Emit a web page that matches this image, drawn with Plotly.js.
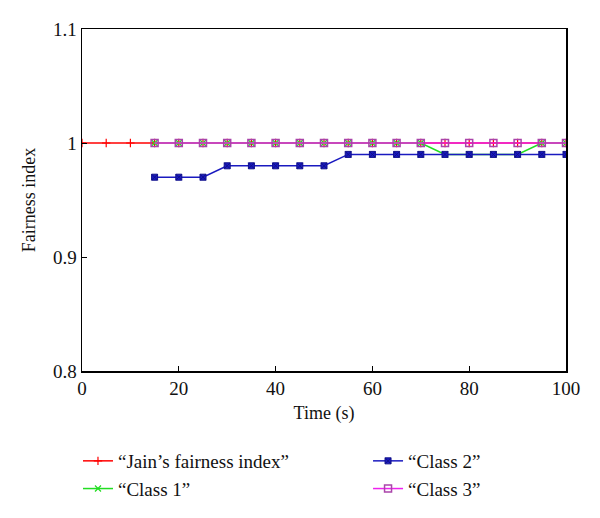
<!DOCTYPE html>
<html>
<head>
<meta charset="utf-8">
<script src="https://cdn.plot.ly/plotly-3.0.1.min.js"></script>
<style>html,body{margin:0;padding:0;background:#fff}#chart{width:600px;height:518px}</style>
</head>
<body>
<div id="chart"></div>
<script>
const jainTime = [0, 5, 10, 15, 20, 25, 30, 35, 40, 45, 50, 55, 60, 65, 70, 75, 80, 85, 90, 95, 100];
const jainIndex = [1, 1, 1, 1, 1, 1, 1, 1, 1, 1, 1, 1, 1, 1, 1, 1, 1, 1, 1, 1, 1];
const classTime = [15, 20, 25, 30, 35, 40, 45, 50, 55, 60, 65, 70, 75, 80, 85, 90, 95, 100];
const class1 = [1, 1, 1, 1, 1, 1, 1, 1, 1, 1, 1, 1, 0.99, 0.99, 0.99, 0.99, 1, 1];
const class2 = [0.97, 0.97, 0.97, 0.98, 0.98, 0.98, 0.98, 0.98, 0.99, 0.99, 0.99, 0.99, 0.99, 0.99, 0.99, 0.99, 0.99, 0.99];
const class3 = [1, 1, 1, 1, 1, 1, 1, 1, 1, 1, 1, 1, 1, 1, 1, 1, 1, 1];
const names = ['\u201CJain\u2019s fairness index\u201D', '\u201CClass 1\u201D', '\u201CClass 2\u201D', '\u201CClass 3\u201D'];
const yTicks = [0.8, 0.9, 1, 1.1];
const yTickText = ['0.8', '0.9', '1', '1.1'];
const xTicks = [0, 20, 40, 60, 80, 100];

const font = 'Liberation Serif, DejaVu Serif, serif';
const traces = [
  {x: jainTime, y: jainIndex, name: names[0], mode: 'lines+markers', legend: 'legend',
   line: {color: '#ff0000', width: 1.5}, marker: {symbol: 'cross-thin-open', size: 6, color: '#ff0000', line: {color: '#d02020', width: 1.2}}},
  {x: classTime, y: class1, name: names[1], mode: 'lines+markers', legend: 'legend',
   line: {color: '#22dd22', width: 1.5}, marker: {symbol: 'x-thin-open', size: 6, color: '#22dd22', line: {color: '#22bb22', width: 1.2}}},
  {x: classTime, y: class2, name: names[2], mode: 'lines+markers', legend: 'legend2',
   line: {color: '#1a1ac0', width: 1.5}, marker: {symbol: 'square-x', size: 6, color: '#1a1ac0', line: {color: '#10108a', width: 1}}},
  {x: classTime, y: class3, name: names[3], mode: 'lines+markers', legend: 'legend2',
   line: {color: '#ee22ee', width: 1.5}, marker: {symbol: 'square-open', size: 7, color: '#aa44aa', line: {color: '#b040b0', width: 1.5}}}
];

const axisCommon = {showline: true, linecolor: '#000', linewidth: 1.5, mirror: true, ticks: 'inside', ticklen: 5,
  tickcolor: '#000', showgrid: false, zeroline: false, automargin: true,
  tickfont: {family: font, size: 19, color: '#111'}};

const layout = {
  width: 600, height: 518,
  margin: {l: 82, r: 34, t: 29, b: 147, autoexpand: false},
  paper_bgcolor: '#fff', plot_bgcolor: '#fff',
  font: {family: font, color: '#111'},
  showlegend: true,
  xaxis: Object.assign({}, axisCommon, {range: [0, 100], tickvals: xTicks,
    title: {text: 'Time (s)', font: {family: font, size: 18, color: '#111'}, standoff: 8}}),
  yaxis: Object.assign({}, axisCommon, {range: [0.8, 1.1], tickvals: yTicks, ticktext: yTickText,
    title: {text: 'Fairness index', font: {family: font, size: 18, color: '#111'}, standoff: 12}}),
  legend: {x: -0.0083, y: -0.2076, xanchor: 'left', yanchor: 'top',
    orientation: 'v', bgcolor: 'rgba(0,0,0,0)', font: {family: font, size: 19, color: '#111'}, tracegroupgap: 0, itemwidth: 30},
  legend2: {x: 0.591, y: -0.2076, xanchor: 'left', yanchor: 'top',
    orientation: 'v', bgcolor: 'rgba(0,0,0,0)', font: {family: font, size: 19, color: '#111'}, tracegroupgap: 0, itemwidth: 30}
};

Plotly.newPlot('chart', traces, layout, {displayModeBar: false, staticPlot: true});
</script>
</body>
</html>
